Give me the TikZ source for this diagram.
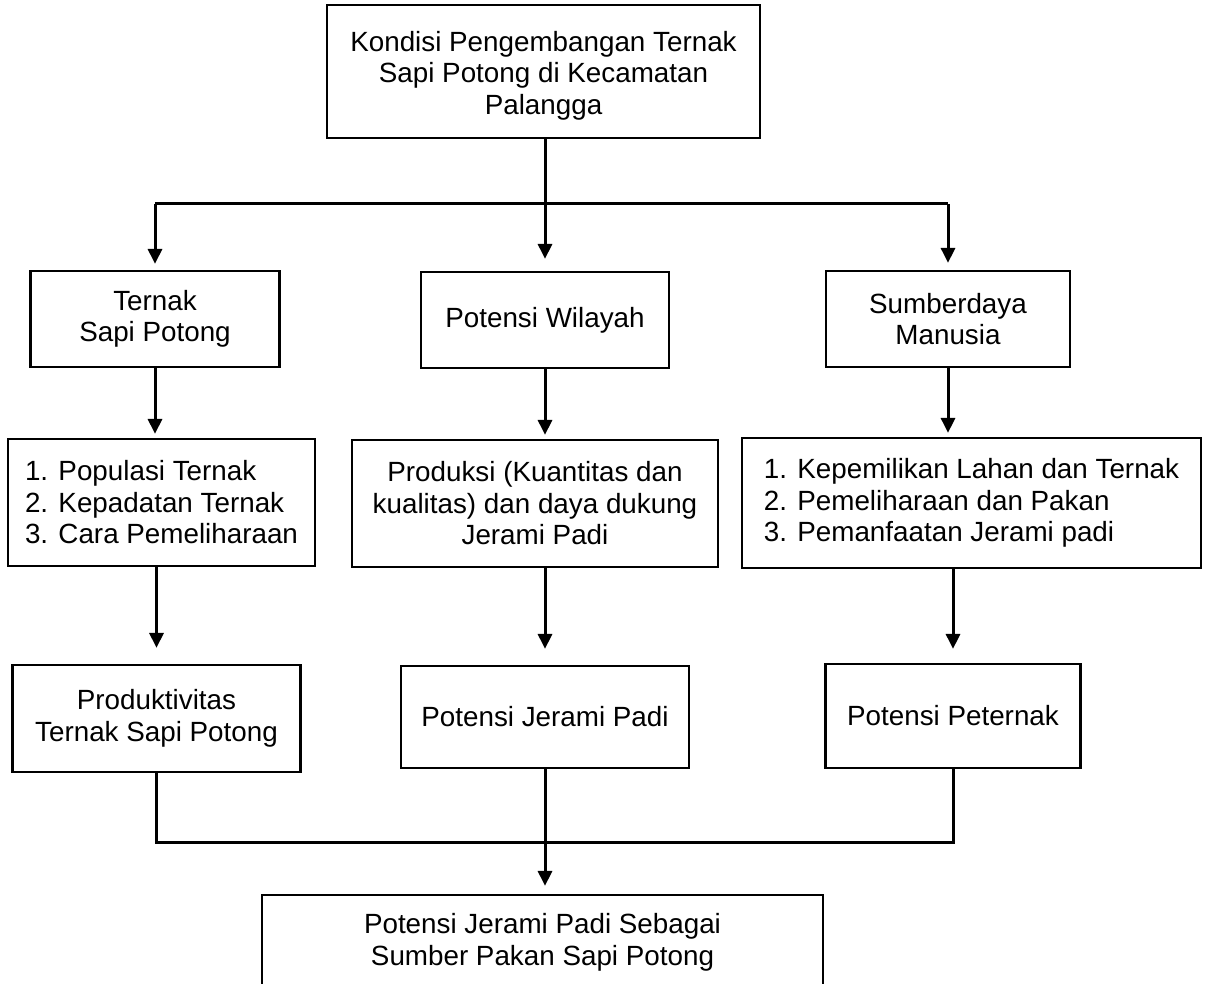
\documentclass[tikz,border=0pt]{standalone}
\usepackage{fontspec}
\setmainfont{Liberation Sans}
\usetikzlibrary{arrows.meta}
\begin{document}
\begin{tikzpicture}[x=1pt,y=-1pt,
  box/.style={draw, line width=2.2pt, inner sep=0pt, align=center,
    font=\fontsize{27.8pt}{31.5pt}\selectfont},
  listbox/.style={box, align=left},
  conn/.style={line width=3pt},
  arr/.style={conn, -{Triangle[length=15pt,width=14pt]}},
]
\clip (0,0) rectangle (1205,984);
% top
\node[box, minimum width=433pt, minimum height=133pt] (top) at (543.5,71.5)
  {\rule{0pt}{28pt}Kondisi Pengembangan Ternak\\Sapi Potong di Kecamatan\\Palangga};
% row 1
\node[box, minimum width=249pt, minimum height=96pt] (A1) at (155,319)
  {Ternak\\Sapi Potong};
\node[box, minimum width=248pt, minimum height=96pt] (B1) at (545,320)
  {Potensi Wilayah};
\node[box, minimum width=244pt, minimum height=96pt] (C1) at (948,319)
  {Sumberdaya\\Manusia};
% row 2
\node[listbox, minimum width=307pt, minimum height=127pt] (A2) at (161.5,502.5)
  {1. Populasi Ternak\\2. Kepadatan Ternak\\3. Cara Pemeliharaan};
\node[box, minimum width=366pt, minimum height=127pt] (B2) at (535,503.5)
  {Produksi (Kuantitas dan\\kualitas) dan daya dukung\\Jerami Padi};
\node[listbox, minimum width=459pt, minimum height=130pt] (C2) at (971.5,503)
  {1. Kepemilikan Lahan dan Ternak\\2. Pemeliharaan dan Pakan\\3. Pemanfaatan Jerami padi};
% row 3
\node[box, minimum width=288pt, minimum height=107pt] (A3) at (156.5,718.5)
  {Produktivitas\\Ternak Sapi Potong};
\node[box, minimum width=288pt, minimum height=102pt] (B3) at (545,717)
  {Potensi Jerami Padi};
\node[box, minimum width=255pt, minimum height=104pt] (C3) at (953,716)
  {Potensi Peternak};
% bottom
\node[box, minimum width=561pt, minimum height=95pt] (D) at (542.5,942.5)
  {Potensi Jerami Padi Sebagai\\Sumber Pakan Sapi Potong};

% connectors top
\coordinate (hub) at (545,204);
\draw[conn] (A1.north |- hub) -- (C1.north |- hub);
\draw[arr, shorten >=6pt] (A1.north |- hub) -- (A1.north);
\draw[arr, shorten >=7pt] (C1.north |- hub) -- (C1.north);
\draw[arr, shorten >=12pt] (top.south -| B1.north) -- (B1.north);
% row1 -> row2
\draw[arr, shorten >=4pt] (A1.south) -- (A1.south |- A2.north);
\draw[arr, shorten >=4pt] (B1.south) -- (B1.south |- B2.north);
\draw[arr, shorten >=4pt] (C1.south) -- (C1.south |- C2.north);
% row2 -> row3
\draw[arr, shorten >=16pt] (A3.north |- A2.south) -- (A3.north);
\draw[arr, shorten >=16pt] (B3.north |- B2.south) -- (B3.north);
\draw[arr, shorten >=14pt] (C3.north |- C2.south) -- (C3.north);
% row3 -> bottom
\coordinate (jn) at (545,842);
\draw[conn] (A3.south) -- (A3.south |- jn) -- (C3.south |- jn) -- (C3.south);
\draw[arr, shorten >=8pt] (B3.south) -- (B3.south |- D.north);
\end{tikzpicture}
\end{document}
